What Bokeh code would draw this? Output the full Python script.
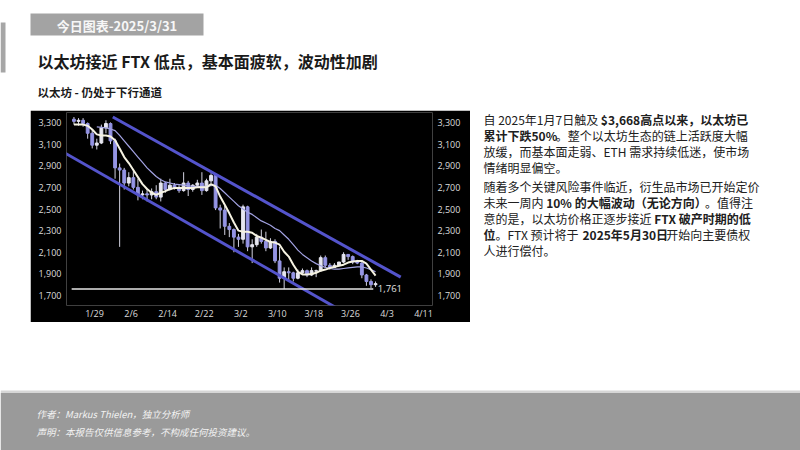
import numpy as np
import pandas as pd
from bokeh.plotting import figure
from bokeh.layouts import column, row
from bokeh.models import (Range1d, LinearAxis, NumeralTickFormatter, FixedTicker,
                          DatetimeTickFormatter, ColumnDataSource, Spacer)
from bokeh.core.properties import value
from bokeh.embed import file_html
from bokeh.resources import INLINE

# ---------------- data ----------------
dates = pd.date_range("2025-01-24", "2025-03-31", freq="D")
opens = [3330, 3310, 3320, 3290, 3200, 3090, 3110, 3250, 3290, 3130,
         2880, 2860, 2740, 2790, 2700, 2630, 2640, 2630, 2660, 2610,
         2740, 2680, 2720, 2700, 2670, 2740, 2680, 2720, 2740, 2670,
         2760, 2810, 2510, 2490, 2340, 2310, 2240, 2220, 2520, 2150,
         2170, 2240, 2200, 2140, 2200, 2020, 1860, 1920, 1910, 1860,
         1910, 1930, 1890, 1925, 1930, 2050, 1980, 1960, 1980, 2010,
         2080, 2060, 2010, 2000, 1890, 1830, 1800]
highs = [3350, 3340, 3340, 3300, 3240, 3150, 3280, 3320, 3300, 3150,
         2920, 2880, 2840, 2860, 2780, 2670, 2690, 2690, 2720, 2780,
         2750, 2780, 2740, 2720, 2840, 2760, 2730, 2770, 2840, 2780,
         2830, 2820, 2540, 2530, 2370, 2320, 2270, 2540, 2530, 2220,
         2270, 2310, 2290, 2230, 2220, 2150, 1960, 1960, 1920, 1940,
         1950, 1940, 1960, 1940, 2070, 2070, 2000, 2000, 2010, 2100,
         2080, 2070, 2030, 2020, 1900, 1850, 1830]
lows = [3280, 3270, 3260, 3150, 3060, 3050, 3100, 3200, 3100, 2780,
        2150, 2680, 2710, 2680, 2580, 2590, 2570, 2590, 2590, 2570,
        2650, 2670, 2680, 2650, 2660, 2620, 2660, 2700, 2630, 2660,
        2740, 2490, 2320, 2260, 2240, 2100, 2150, 2180, 2110, 2000,
        2150, 2180, 2110, 2130, 2000, 1820, 1760, 1840, 1830, 1850,
        1900, 1870, 1880, 1870, 1920, 1960, 1940, 1960, 1970, 2000,
        2030, 1990, 1990, 1860, 1790, 1770, 1780]
closes = [3310, 3320, 3290, 3200, 3090, 3110, 3250, 3290, 3130, 2880,
          2860, 2740, 2790, 2700, 2630, 2640, 2630, 2660, 2610, 2740,
          2680, 2720, 2700, 2670, 2740, 2680, 2720, 2740, 2670, 2760,
          2810, 2510, 2490, 2340, 2310, 2240, 2220, 2520, 2150, 2170,
          2240, 2200, 2140, 2200, 2020, 1860, 1920, 1910, 1860, 1910,
          1930, 1890, 1930, 1930, 2050, 1980, 1960, 1980, 2010, 2080,
          2060, 2010, 2000, 1890, 1830, 1800, 1810]
ma_fast = [3280, 3280, 3280, 3270, 3235, 3190, 3180, 3180, 3170, 3135,
           3060, 2980, 2925, 2860, 2795, 2730, 2685, 2650, 2630, 2650,
           2665, 2685, 2695, 2695, 2695, 2695, 2695, 2700, 2700, 2700,
           2730, 2710, 2615, 2540, 2460, 2375, 2300, 2290, 2290, 2280,
           2250, 2235, 2215, 2195, 2190, 2170, 2105, 2060, 1985, 1920,
           1895, 1895, 1900, 1910, 1930, 1940, 1955, 1965, 1975, 1985,
           2005, 2015, 2020, 2020, 1995, 1940, 1885]
ma_slow = [None, None, None, None, None, 3260, 3255, 3250, 3240, 3225,
           3180, 3130, 3080, 3030, 2980, 2930, 2880, 2840, 2800, 2770,
           2750, 2740, 2730, 2725, 2720, 2715, 2710, 2710, 2710, 2710,
           2715, 2720, 2690, 2650, 2610, 2570, 2530, 2500, 2470, 2450,
           2420, 2390, 2370, 2350, 2320, 2300, 2260, 2220, 2170, 2120,
           2080, 2050, 2020, 1995, 1975, 1960, 1950, 1945, 1945, 1950,
           1955, 1960, 1965, 1965, 1955, 1940, 1920]
upper_channel_dates = ["2025-02-02", "2025-04-06"]
upper_channel_vals = [3350, 1870]
lower_channel_dates = ["2025-01-22", "2025-03-24"]
lower_channel_vals = [3030, 1560]
support_level = 1761
support_label = "1,761"
x_tick_dates = ["2025-01-29", "2025-02-06", "2025-02-14", "2025-02-22", "2025-03-02",
                "2025-03-10", "2025-03-18", "2025-03-26", "2025-04-03", "2025-04-11"]
y_ticks = [1700, 1900, 2100, 2300, 2500, 2700, 2900, 3100, 3300]

CJK = "Noto Sans CJK SC"
AXF = "Open Sans"

# ---------------- helpers ----------------
def page_fig(w, h, x0, x1, y0, y1):
    f = figure(width=w, height=h, x_range=Range1d(x0, x1), y_range=Range1d(y1, y0),
               output_backend="svg", toolbar_location=None, tools="",
               x_axis_location=None, y_axis_location=None, min_border=0,
               outline_line_color=None, background_fill_color="white",
               border_fill_color="white")
    f.grid.visible = False
    return f


def txt(f, x, y, s, size, bold=False, italic=False, color="#1c1c1c", align="left", font=CJK):
    style = "bold" if bold else ("italic" if italic else "normal")
    f.text(x=[x], y=[y], text=[s], text_font=value(font), text_font_size=value(f"{size}px"),
           text_font_style=style, text_color=color, text_align=align, text_baseline="middle")


def text_width(s, size, bold=False):
    w = 0.0
    for ch in s:
        o = ord(ch)
        if o >= 0x2E80 or ch in "，。、（）：":
            w += 1.0
        elif ch.isdigit() or ch == "$":
            w += 0.57 if bold else 0.555
        elif ch == " ":
            w += 0.224
        elif ch in ",.":
            w += 0.26
        elif ch == "%":
            w += 0.88
        elif ch.isupper():
            w += 0.62 if bold else 0.6
        else:
            w += 0.5
    return w * size

# ---------------- top block (screen y 0..110) ----------------
top = page_fig(800, 110, 0, 800, 0, 110)
top.quad(left=[0], right=[5], top=[22], bottom=[72], fill_color="#a6a6a6", line_color=None)
top.quad(left=[30], right=[203], top=[13], bottom=[35], fill_color="#a3a3a3", line_color=None)
txt(top, 116.5, 24.5, "今日图表-2025/3/31", 13, bold=True, color="#f7f7f7", align="center")
txt(top, 37, 60, "以太坊接近 FTX 低点，基本面疲软，波动性加剧", 16, bold=True, color="#1a1a1a")
txt(top, 37, 91.5, "以太坊 - 仍处于下行通道", 11.5, bold=True, color="#1a1a1a")

# ---------------- chart (screen x 30..470, y 110..322) ----------------
t0 = pd.Timestamp("2025-01-29")
x_start = (t0 - pd.Timedelta(days=6.13)).value / 1e6
x_end = (t0 + pd.Timedelta(days=73.96)).value / 1e6

chart = figure(width=440, height=212, x_axis_type="datetime",
               x_range=Range1d(x_start, x_end), y_range=Range1d(1608, 3392),
               output_backend="svg", toolbar_location=None, tools="",
               background_fill_color="black", border_fill_color="black",
               outline_line_color=None, min_border_left=36, min_border_right=38,
               min_border_top=2, min_border_bottom=16)
chart.grid.visible = False

centers = dates + pd.Timedelta(hours=12)
o = np.array(opens, float); c = np.array(closes, float)
inc = c >= o
src = ColumnDataSource(dict(x=centers, o=o, h=highs, l=lows, c=c,
                            top=np.maximum(o, c), bot=np.minimum(o, c),
                            col=np.where(inc, "#e6e6f0", "#9494e4")))
chart.segment(x0="x", y0="h", x1="x", y1="l", source=src, line_color="#d2d2e0", line_width=1)
chart.vbar(x="x", width=0.62 * 86400000, top="top", bottom="bot", source=src,
           fill_color="col", line_color="col")

chart.line(pd.to_datetime(upper_channel_dates), upper_channel_vals, line_color="#5454cc", line_width=3)
chart.line(pd.to_datetime(lower_channel_dates), lower_channel_vals, line_color="#5454cc", line_width=3)

slow = np.array([np.nan if v is None else v for v in ma_slow], float)
chart.line(centers, slow, line_color="#a2a2e2", line_width=1.2)
chart.line(centers, ma_fast, line_color="#f6f3e2", line_width=2)

chart.line([dates[0], dates[-1]], [support_level, support_level], line_color="#e6e6e6", line_width=1.5)
chart.text(x=[dates[-1] + pd.Timedelta(days=1)], y=[support_level], text=[support_label],
           text_font=value(AXF), text_font_size=value("9.5px"), text_color="#e0e0e0",
           text_baseline="middle", text_align="left")

yl = chart.yaxis[0]
yr = LinearAxis()
chart.add_layout(yr, "right")
for ax in (yl, yr):
    ax.ticker = FixedTicker(ticks=y_ticks)
    ax.formatter = NumeralTickFormatter(format="0,0")
for ax in (yl, yr, chart.xaxis[0]):
    ax.axis_line_color = None
    ax.major_tick_line_color = None
    ax.minor_tick_line_color = None
    ax.major_tick_out = 0
    ax.major_tick_in = 0
    ax.minor_tick_out = 0
    ax.minor_tick_in = 0
    ax.major_label_text_color = "#dcdcdc"
    ax.major_label_text_font = AXF
    ax.major_label_text_font_size = "9px"
    ax.major_label_standoff = 5
xa = chart.xaxis[0]
xa.major_label_standoff = 1
xa.ticker = FixedTicker(ticks=[pd.Timestamp(d).value / 1e6 for d in x_tick_dates])
fmt = "%-m/%-d"
xa.formatter = DatetimeTickFormatter(days=fmt, months=fmt, hours=fmt, years=fmt,
                                     hourmin=fmt, minutes=fmt)

# ---------------- right text (screen x 470..800) ----------------
tf = page_fig(330, 212, 470, 800, 110, 322)
lines = [
    (118.0, [("自 2025年1月7日触及 ", False), ("$3,668高点以来，以太坊已", True)]),
    (135.5, [("累计下跌50%", True), ("。整个以太坊生态的链上活跃度大幅", False)]),
    (153.0, [("放缓，而基本面走弱、ETH 需求持续低迷，使市场", False)]),
    (170.5, [("情绪明显偏空。", False)]),
    (191.5, [("随着多个关键风险事件临近，衍生品市场已开始定价", False)]),
    (209.0, [("未来一周内 ", False), ("10% 的大幅波动（无论方向）", True), ("。值得注", False)]),
    (226.5, [("意的是，以太坊价格正逐步接近 ", False), ("FTX 破产时期的低", True)]),
    (244.0, [("位", True), ("。FTX 预计将于 ", False), ("2025年5月30日", True), ("开始向主要债权", False)]),
    (261.5, [("人进行偿付。", False)]),
]
FS = 12
for y, segs in lines:
    x = 483.0
    for s, b in segs:
        txt(tf, x, y, s, FS, bold=b, color="#202020")
        x += text_width(s, FS, b)

# ---------------- footer (screen y 322..450) ----------------
bot = page_fig(800, 128, 0, 800, 322, 450)
bot.quad(left=[0], right=[800], top=[390], bottom=[392.5], fill_color="#d6d6d6", line_color=None)
bot.quad(left=[0], right=[800], top=[392.5], bottom=[450], fill_color="#9a9a9a", line_color=None)
txt(bot, 36, 413, "作者：Markus Thielen，独立分析师", 9.5, italic=True, color="#f2f2f2")
txt(bot, 36, 431, "声明：本报告仅供信息参考，不构成任何投资建议。", 9.5, italic=True, color="#f2f2f2")

layout = column(top, row(Spacer(width=30, height=212), chart, tf), bot)

open("out.html", "w").write(file_html(layout, INLINE))
